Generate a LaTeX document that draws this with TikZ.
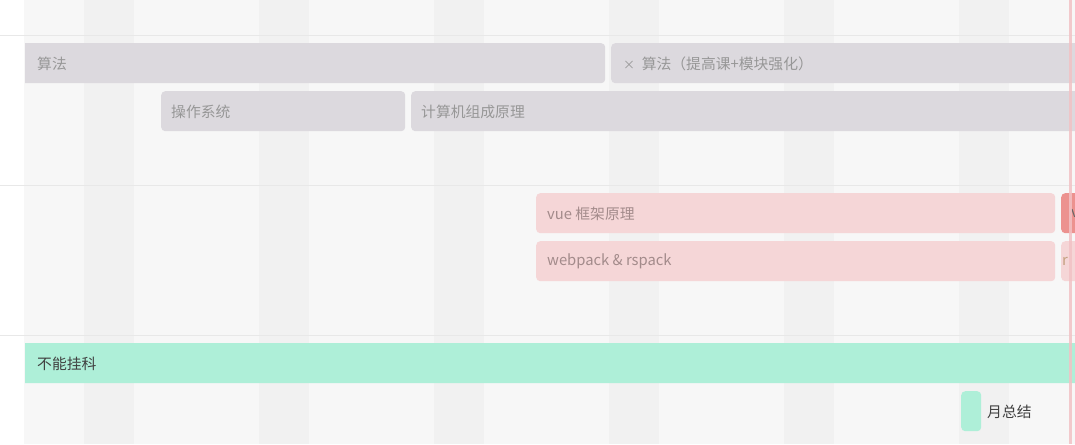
\documentclass[tikz,border=0pt]{standalone}
\usepackage{fontspec}
\setmainfont{Noto Sans CJK SC}
\usetikzlibrary{calc}
\definecolor{bgmain}{HTML}{F7F7F7}
\definecolor{bgstripe}{HTML}{F1F1F1}
\definecolor{sepline}{HTML}{E8E8E8}
\definecolor{grayfill}{HTML}{DCD9DE}
\definecolor{graytext}{HTML}{979797}
\definecolor{redfill}{HTML}{F5D6D7}
\definecolor{redtext}{HTML}{A38B8B}
\definecolor{darkred}{HTML}{EC928F}
\definecolor{greenfill}{HTML}{AEEFD8}
\definecolor{todayline}{HTML}{F2C2C5}
\definecolor{rtext}{HTML}{C4A080}
\tikzset{
  bar/.style={rectangle, rounded corners=4pt, inner sep=0pt, minimum height=40pt, anchor=north west, draw=none},
  graybar/.style={bar, fill=grayfill},
  redbar/.style={bar, fill=redfill},
  darkbar/.style={bar, fill=darkred},
  greenbar/.style={bar, fill=greenfill},
  lbl/.style={anchor=west, inner sep=0pt, font=\fontsize{14.8pt}{17pt}\selectfont},
  graylbl/.style={lbl, text=graytext},
  redlbl/.style={lbl, text=redtext},
  darklbl/.style={lbl, text=black!75},
  sep/.style={draw=sepline, line width=1pt},
}
\begin{document}
\begin{tikzpicture}[x=1pt, y=-1pt]
\useasboundingbox (0,0) rectangle (1075,444);
\clip (0,0) rectangle (1075,444);
% background
\fill[white] (0,0) rectangle (24,444);
\fill[bgmain] (24,0) rectangle (1075,444);
\foreach \k in {0,...,5} {
  \fill[bgstripe] ({84+175*\k},0) rectangle ({134+175*\k},444);
}
\draw[sep] (0,35.5) -- (1075,35.5);
\draw[sep] (0,185.5) -- (1075,185.5);
\draw[sep] (0,335.5) -- (1075,335.5);
% bars
\begin{scope}
\clip (25,0) rectangle (1075,444);
\node[graybar, minimum width=615pt] (alg) at (-10,43) {};
\node[graybar, minimum width=500pt] (alg2) at (611,43) {};
\node[graybar, minimum width=244pt] (os) at (161,91) {};
\node[graybar, minimum width=700pt] (comp) at (411,91) {};
\node[redbar, minimum width=519pt] (vue) at (536,193) {};
\node[darkbar, minimum width=60pt] (vue2) at (1061,193) {};
\node[redbar, minimum width=519pt] (wp) at (536,241) {};
\node[redbar, minimum width=60pt] (wp2) at (1061,241) {};
\node[greenbar, minimum width=1100pt] (fail) at (-10,343) {};
\node[greenbar, minimum width=20pt] (sum) at (961,391) {};
% labels
\node[graylbl] (talg) at (37,63.5) {算法};
\node[graylbl] (talg2) at (623,63.5) {{\fontsize{12pt}{14pt}\selectfont ×}\ \ 算法（提高课+模块强化）};
\node[graylbl] (tos) at (171,111.5) {操作系统};
\node[graylbl] (tcomp) at (421,111.5) {计算机组成原理};
\node[redlbl] (tvue) at (547,213.5) {vue 框架原理};
\node[lbl, text=black!60] (tvue2) at (1071,213.5) {v};
\node[redlbl] (twp) at (547,261.5) {webpack \& rspack};
\node[lbl, text=rtext] (twp2) at (1062,261.5) {r};
\node[darklbl] (tfail) at (37,363.5) {不能挂科};
\end{scope}
\node[darklbl] (tsum) at (987,411.5) {月总结};
% today line
\draw[todayline, line width=3pt, opacity=0.85] (1070,0) -- (1070,444);
\end{tikzpicture}
\end{document}
